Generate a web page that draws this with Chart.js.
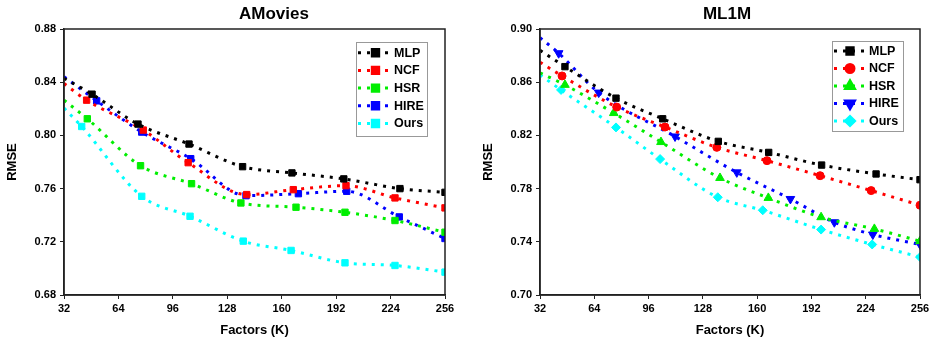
<!DOCTYPE html>
<html>
<head>
<meta charset="utf-8">
<script src="https://cdn.jsdelivr.net/npm/chart.js@4.4.0/dist/chart.umd.min.js"></script>
<style>
  body { margin: 0; background: #fff; }
  .wrap { position: relative; width: 936px; height: 343px; }
  canvas { position: absolute; top: 0; }
</style>
</head>
<body>
<div class="wrap">
  <canvas id="amovies" width="468" height="343" style="left:0"></canvas>
  <canvas id="ml1m" width="468" height="343" style="left:468px"></canvas>
</div>
<script>
// data
const methods = ["MLP", "NCF", "HSR", "HIRE", "Ours"];
const factorTicks = [32, 64, 96, 128, 160, 192, 224, 256];
const amoviesTicks = [0.68, 0.72, 0.76, 0.80, 0.84, 0.88];
const ml1mTicks = [0.70, 0.74, 0.78, 0.82, 0.86, 0.90];

// AMovies (K where each marker sits, RMSE)
const amMlpK   = [32, 48.5, 75.5, 105.5, 137, 166, 196.5, 229.5, 256];
const amMlp    = [0.843, 0.831, 0.8085, 0.7935, 0.7765, 0.7718, 0.7673, 0.760, 0.7572];
const amNcfK   = [32, 45.3, 78.6, 105, 139.4, 166.8, 197.8, 226.6, 256];
const amNcf    = [0.839, 0.8265, 0.804, 0.7795, 0.7555, 0.7592, 0.7622, 0.753, 0.7455];
const amHsrK   = [32, 45.7, 77, 107, 136, 168.4, 197.2, 226.6, 256];
const amHsr    = [0.8265, 0.8125, 0.7772, 0.7637, 0.7492, 0.746, 0.7422, 0.736, 0.7272];
const amHireK  = [32, 51.2, 77.7, 106.5, 139, 169.8, 198.2, 229.1, 256];
const amHire   = [0.8442, 0.826, 0.8025, 0.7825, 0.7547, 0.7562, 0.758, 0.7387, 0.7225];
const amOursK  = [32, 42.4, 77.7, 106.1, 137.4, 165.5, 197.2, 226.6, 256];
const amOurs   = [0.8205, 0.8067, 0.7542, 0.7392, 0.7205, 0.7135, 0.7042, 0.7022, 0.6972];

// ML1M
const mlMlpK   = [32, 46.7, 76.8, 104.3, 137.1, 166.8, 198, 230.1, 256];
const mlMlp    = [0.884, 0.8717, 0.848, 0.8325, 0.8155, 0.8072, 0.7977, 0.791, 0.7867];
const mlNcfK   = [32, 45, 77.2, 105.7, 136.2, 165.8, 197.1, 227.2, 256];
const mlNcf    = [0.875, 0.8647, 0.8413, 0.8263, 0.811, 0.801, 0.7897, 0.7785, 0.7675];
const mlHsrK   = [32, 46.7, 75.5, 103.3, 138.1, 166.6, 197.7, 229.1, 256];
const mlHsr    = [0.867, 0.858, 0.8368, 0.815, 0.788, 0.773, 0.7585, 0.7497, 0.7405];
const mlHireK  = [32, 43, 66.6, 111.6, 148, 179.6, 205.5, 228.2, 256];
const mlHire   = [0.8935, 0.8818, 0.8522, 0.8192, 0.7922, 0.7722, 0.7547, 0.7455, 0.738];
const mlOursK  = [32, 44.4, 76.8, 102.8, 136.8, 163.3, 197.7, 227.8, 256];
const mlOurs   = [0.8655, 0.8542, 0.826, 0.8022, 0.7735, 0.7637, 0.7492, 0.738, 0.7285];

const colors = ["#000000", "#ff0000", "#00ee00", "#0000ff", "#00ffff"];
const FONT = "'Liberation Sans', Arial, sans-serif";

Chart.defaults.font.family = FONT;
Chart.defaults.font.weight = "bold";
Chart.defaults.color = "#000";

// frame, title and boxed legend with dotted samples
const decorPlugin = {
    id: "decor",
    afterDraw(chart, args, opts) {
        const ctx = chart.ctx;
        const a = chart.chartArea;
        ctx.save();
        ctx.strokeStyle = "#222";
        ctx.lineWidth = 1.5;
        ctx.strokeRect(a.left, a.top, a.right - a.left, a.bottom - a.top);

        ctx.fillStyle = "#000";
        ctx.font = "bold 17px " + FONT;
        ctx.textAlign = "center";
        ctx.textBaseline = "middle";
        ctx.fillText(opts.title, opts.titleX, 14);

        const lg = opts.legend;
        ctx.strokeStyle = "#999";
        ctx.lineWidth = 1;
        ctx.strokeRect(lg.x + 0.5, lg.y + 0.5, lg.w, lg.h);
        ctx.textAlign = "left";
        ctx.font = "bold 12.5px " + FONT;
        chart.data.datasets.forEach((ds, i) => {
            const y = lg.row0 + i * lg.gap;
            ctx.strokeStyle = ds.borderColor;
            ctx.lineWidth = 3;
            ctx.setLineDash([3, 6]);
            ctx.beginPath();
            ctx.moveTo(lg.x + 2, y);
            ctx.lineTo(lg.x + 32, y);
            ctx.stroke();
            ctx.setLineDash([]);
            ctx.fillStyle = ds.borderColor;
            ctx.strokeStyle = ds.borderColor;
            if (Chart.helpers && Chart.helpers.drawPoint) {
                Chart.helpers.drawPoint(ctx, {
                    pointStyle: ds.pointStyle,
                    rotation: ds.pointRotation || 0,
                    radius: ds.markerSize,
                    borderWidth: 1
                }, lg.x + lg.mark, y);
            } else {
                ctx.fillRect(lg.x + lg.mark - 3, y - 3, 6, 6);
            }
            ctx.fillStyle = "#000";
            ctx.fillText(ds.label, lg.x + lg.text, y + 0.5);
        });
        ctx.restore();
    }
};

function makeChart(id, cfg) {
    const datasets = cfg.series.map((s, i) => ({
        label: methods[i],
        data: s[0].map((k, j) => ({ x: k, y: s[1][j] })),
        borderColor: colors[i],
        backgroundColor: colors[i],
        borderWidth: 3,
        borderDash: [3, 6],
        cubicInterpolationMode: "monotone",
        fill: false,
        pointStyle: cfg.styles[i][0],
        pointRotation: cfg.styles[i][1],
        markerSize: cfg.styles[i][2],
        pointRadius: (c) => (c.dataIndex === 0 ? 0 : cfg.styles[i][2]),
        pointBorderWidth: 1,
        pointHoverRadius: cfg.styles[i][2]
    }));

    return new Chart(document.getElementById(id), {
        type: "line",
        data: { datasets: datasets },
        plugins: [decorPlugin],
        options: {
            responsive: false,
            animation: false,
            events: [],
            layout: { padding: { left: cfg.padLeft, right: cfg.padRight, top: 29, bottom: 5 } },
            scales: {
                x: {
                    type: "linear",
                    min: 32,
                    max: 256,
                    afterBuildTicks: (s) => { s.ticks = factorTicks.map((v) => ({ value: v })); },
                    afterFit: (s) => { s.height = 43; },
                    ticks: { font: { size: 11, weight: "bold" }, color: "#000", padding: 3, maxRotation: 0, autoSkip: false },
                    grid: { drawOnChartArea: false, tickLength: 4, color: "#222", lineWidth: 1 },
                    border: { color: "#222", width: 1.5 },
                    title: { display: true, text: "Factors (K)", font: { size: 13, weight: "bold" }, color: "#000", padding: 0 }
                },
                y: {
                    type: "linear",
                    min: cfg.yTicks[0],
                    max: cfg.yTicks[cfg.yTicks.length - 1],
                    afterBuildTicks: (s) => { s.ticks = cfg.yTicks.map((v) => ({ value: v })); },
                    afterFit: (s) => { s.width = 59; },
                    ticks: { font: { size: 11, weight: "bold" }, color: "#000", padding: 4, callback: (v) => Number(v).toFixed(2) },
                    grid: { drawOnChartArea: false, tickLength: 4, color: "#222", lineWidth: 1 },
                    border: { color: "#222", width: 1.5 },
                    title: { display: true, text: "RMSE", font: { size: 13, weight: "bold" }, color: "#000", padding: 0 }
                }
            },
            plugins: {
                legend: { display: false },
                tooltip: { enabled: false },
                decor: { title: cfg.title, titleX: cfg.titleX, legend: cfg.legend }
            }
        }
    });
}

makeChart("amovies", {
    title: "AMovies",
    titleX: 274,
    padLeft: 5,
    padRight: 23,
    yTicks: amoviesTicks,
    series: [[amMlpK, amMlp], [amNcfK, amNcf], [amHsrK, amHsr], [amHireK, amHire], [amOursK, amOurs]],
    styles: [["rect", 0, 4.5], ["rect", 0, 4.5], ["rect", 0, 4.5], ["rect", 0, 4.5], ["rect", 0, 4.5]],
    legend: { x: 356, y: 42, w: 71, h: 94, row0: 52.7, gap: 17.7, mark: 19.5, text: 38 }
});

makeChart("ml1m", {
    title: "ML1M",
    titleX: 259,
    padLeft: 13,
    padRight: 16,
    yTicks: ml1mTicks,
    series: [[mlMlpK, mlMlp], [mlNcfK, mlNcf], [mlHsrK, mlHsr], [mlHireK, mlHire], [mlOursK, mlOurs]],
    styles: [["rect", 0, 4.5], ["circle", 0, 4], ["triangle", 0, 5], ["triangle", 180, 5], ["rectRot", 0, 4.5]],
    legend: { x: 364, y: 41, w: 71, h: 90, row0: 51, gap: 17.5, mark: 18, text: 37 }
});
</script>
</body>
</html>
